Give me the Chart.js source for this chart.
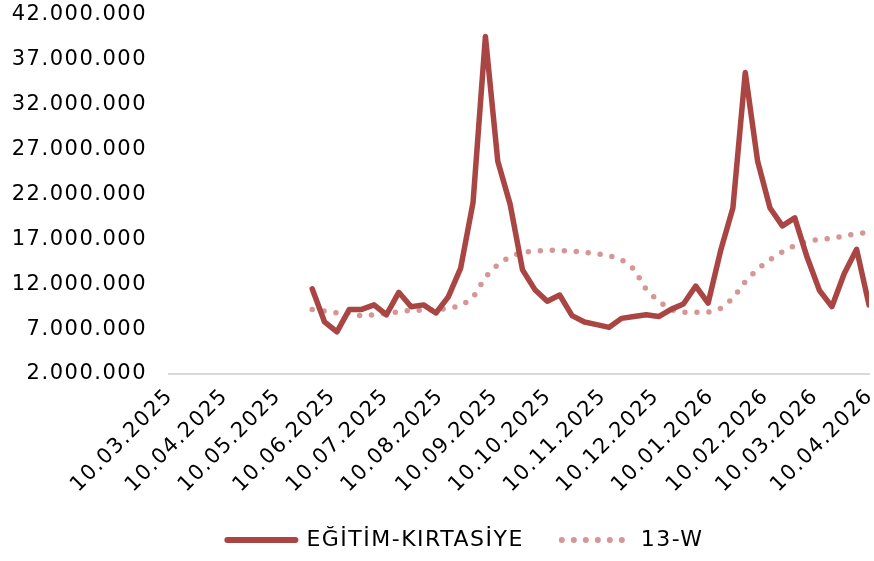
<!DOCTYPE html>
<html>
<head>
<meta charset="utf-8">
<script src="https://cdn.jsdelivr.net/npm/chart.js@4.4.1/dist/chart.umd.min.js"></script>
<style>
  html, body { margin: 0; padding: 0; background: #fff; }
  #wrap { width: 874px; height: 561px; position: relative; }
</style>
</head>
<body>
<div id="wrap"><canvas id="salesChart"></canvas></div>
<script>
// weekly dates of the series
let weekDates = ['30.05.2025', '06.06.2025', '13.06.2025', '20.06.2025', '27.06.2025', '04.07.2025', '11.07.2025', '18.07.2025',
  '25.07.2025', '01.08.2025', '08.08.2025', '15.08.2025', '22.08.2025', '29.08.2025', '05.09.2025', '12.09.2025',
  '19.09.2025', '26.09.2025', '03.10.2025', '10.10.2025', '17.10.2025', '24.10.2025', '31.10.2025', '07.11.2025',
  '14.11.2025', '21.11.2025', '28.11.2025', '05.12.2025', '12.12.2025', '19.12.2025', '26.12.2025', '02.01.2026',
  '09.01.2026', '16.01.2026', '23.01.2026', '30.01.2026', '06.02.2026', '13.02.2026', '20.02.2026', '27.02.2026',
  '06.03.2026', '13.03.2026', '20.03.2026', '27.03.2026', '03.04.2026', '10.04.2026'];

let kirtasiye = [11500000, 7800000, 6700000, 9200000, 9200000, 9700000, 8600000, 11100000,
  9500000, 9700000, 8800000, 10600000, 13800000, 21100000, 39600000, 25700000,
  20900000, 13600000, 11400000, 10100000, 10800000, 8500000, 7800000, 7500000,
  7200000, 8200000, 8400000, 8600000, 8400000, 9200000, 9800000, 11800000,
  9900000, 15700000, 20500000, 35600000, 25700000, 20500000, 18500000, 19400000,
  15000000, 11300000, 9500000, 13200000, 15900000, 9700000];

let avg13w = [9200000, 9000000, 8800000, 8800000, 8450000, 8600000, 8750000, 8950000,
  9100000, 9100000, 9150000, 9300000, 9600000, 10500000, 12800000, 14200000,
  15100000, 15550000, 15700000, 15800000, 15750000, 15700000, 15550000, 15400000,
  15200000, 14750000, 13700000, 11400000, 10100000, 9150000, 8870000, 8870000,
  8870000, 9300000, 10400000, 12300000, 13700000, 14750000, 15600000, 16300000,
  16800000, 17000000, 17100000, 17400000, 17600000, 17800000];

let xTickLabels = ['10.03.2025', '10.04.2025', '10.05.2025', '10.06.2025', '10.07.2025', '10.08.2025', '10.09.2025',
  '10.10.2025', '10.11.2025', '10.12.2025', '10.01.2026', '10.02.2026', '10.03.2026', '10.04.2026'];

let seriesNames = ['EĞİTİM-KIRTASİYE', '13-W'];

// dd.mm.yyyy -> days from first tick
function toDay(s) {
  let p = s.split('.');
  return Date.UTC(+p[2], +p[1] - 1, +p[0]) / 86400000;
}
let day0 = toDay(xTickLabels[0]);
let tickDays = xTickLabels.map(s => toDay(s) - day0);

function dotted(n) {
  return String(n).replace(/\B(?=(\d{3})+(?!\d))/g, '.');
}

let fontName = 'DejaVu Sans';

let chartData = {
  datasets: [
    {
      label: seriesNames[0],
      data: weekDates.map((d, i) => ({ x: toDay(d) - day0, y: kirtasiye[i] })),
      borderColor: '#a94644',
      backgroundColor: '#a94644',
      borderWidth: 5.5,
      pointRadius: 0,
      tension: 0,
      borderJoinStyle: 'round',
      borderCapStyle: 'round'
    },
    {
      label: seriesNames[1],
      data: weekDates.map((d, i) => ({ x: toDay(d) - day0, y: avg13w[i] })),
      borderColor: '#d59695',
      backgroundColor: '#d59695',
      borderWidth: 5.5,
      borderDash: [0, 12],
      borderCapStyle: 'round',
      pointRadius: 0,
      tension: 0
    }
  ]
};

// the original font is wider, so spread the letters a bit;
// also let tick labels run outside their boxes and nudge the legend right
let tweaks = {
  id: 'tweaks',
  beforeLayout: function (chart) { chart.ctx.letterSpacing = '1.5px'; },
  afterLayout: function (chart) {
    chart.scales.x._computeLabelArea = function () { return undefined; };
    chart.scales.y._computeLabelArea = function () { return undefined; };
    chart.legend.left += 62;
  },
  beforeDraw: function (chart) { chart.ctx.letterSpacing = '1.5px'; }
};

let chartOptions = {
  responsive: true,
  maintainAspectRatio: false,
  animation: false,
  layout: { padding: { left: 0, right: 5, top: 0, bottom: 0 } },
  scales: {
    x: {
      type: 'linear',
      min: 0,
      max: tickDays[tickDays.length - 1],
      afterBuildTicks: function (scale) {
        scale.ticks = tickDays.map(v => ({ value: v }));
      },
      afterFit: function (scale) {
        scale.height = 117;
        scale.paddingLeft = 0;
        scale.paddingRight = 5;
      },
      grid: { display: false, drawTicks: false },
      border: { display: true, color: '#d9d9d9', width: 2 },
      ticks: {
        autoSkip: false,
        maxRotation: 45,
        minRotation: 45,
        padding: 10,
        labelOffset: 1,
        color: '#000',
        font: { family: fontName, size: 21 },
        callback: function (v) {
          let i = tickDays.indexOf(v);
          return i >= 0 ? xTickLabels[i] : '';
        }
      }
    },
    y: {
      min: 2000000,
      max: 42000000,
      afterFit: function (scale) {
        scale.width = 169;
        scale.paddingTop = 15;
        scale.paddingBottom = 0;
      },
      grid: { display: false, drawTicks: false },
      border: { display: false },
      ticks: {
        stepSize: 5000000,
        padding: 22,
        color: '#000',
        font: { family: fontName, size: 21 },
        callback: function (v) {
          return dotted(v);
        }
      }
    }
  },
  plugins: {
    legend: {
      position: 'bottom',
      labels: {
        usePointStyle: true,
        pointStyle: 'line',
        pointStyleWidth: 68,
        padding: 38,
        color: '#000',
        font: { family: fontName, size: 22 },
        generateLabels: function (chart) {
          let items = Chart.defaults.plugins.legend.labels.generateLabels(chart);
          items.forEach(function (it, i) {
            let ds = chart.data.datasets[i];
            it.pointStyle = 'line';
            it.lineWidth = 6;
            it.lineDash = ds.borderDash || [];
            it.lineCap = 'round';
            it.strokeStyle = ds.borderColor;
          });
          return items;
        }
      }
    },
    tooltip: { enabled: false }
  }
};

new Chart(document.getElementById('salesChart').getContext('2d'), {
  type: 'line',
  data: chartData,
  options: chartOptions,
  plugins: [tweaks]
});
</script>
</body>
</html>
